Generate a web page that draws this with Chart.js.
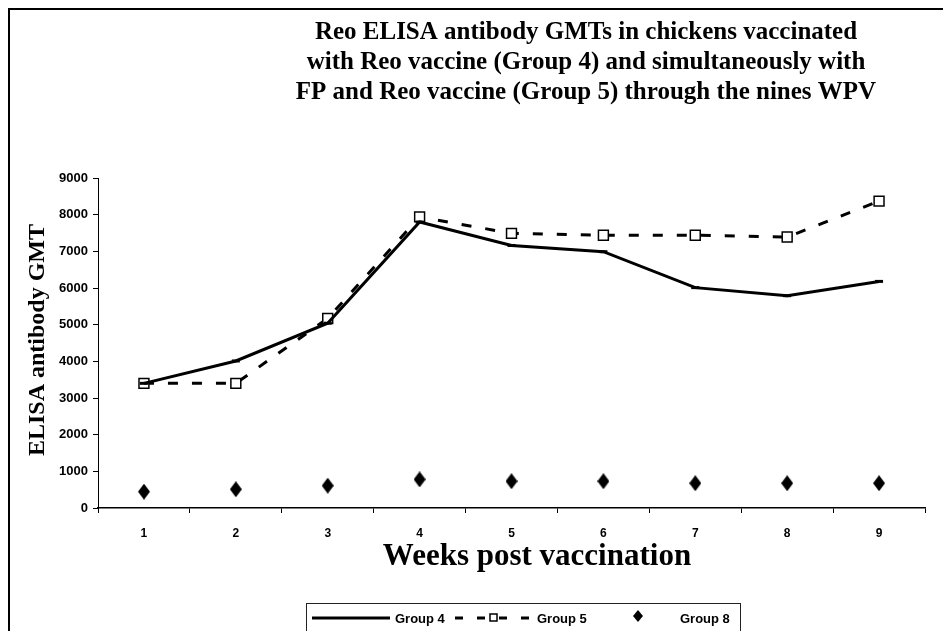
<!DOCTYPE html>
<html>
<head>
<meta charset="utf-8">
<script src="https://cdn.jsdelivr.net/npm/chart.js@4"></script>
<style>
  body { margin: 0; background: #fff; }
  #reo-chart { display: block; }
</style>
</head>
<body>
<canvas id="reo-chart" width="943" height="631"></canvas>
<script>
const weeks = ['1', '2', '3', '4', '5', '6', '7', '8', '9'];
const group4 = [3400, 4010, 5040, 7800, 7160, 6990, 6010, 5790, 6180];
const group5 = [3400, 3400, 5170, 7940, 7490, 7440, 7440, 7390, 8370];
const group8 = [445, 510, 610, 780, 730, 730, 675, 675, 675];

const titleLines = [
    'Reo ELISA antibody GMTs in chickens vaccinated',
    'with Reo vaccine (Group 4) and simultaneously with',
    'FP and Reo vaccine (Group 5) through the nines WPV'
];

// tall narrow diamond used for Group 8
function makeDiamond(w, h) {
    const c = document.createElement('canvas');
    c.width = w; c.height = h;
    const g = c.getContext('2d');
    g.fillStyle = '#000';
    g.beginPath();
    g.moveTo(w / 2, 0);
    g.lineTo(w, h / 2);
    g.lineTo(w / 2, h);
    g.lineTo(0, h / 2);
    g.closePath();
    g.fill();
    return c;
}
const diamond = makeDiamond(12, 16);
const smallDiamond = makeDiamond(10, 12);

const decor = {
    id: 'decor',
    beforeDraw(chart) {
        const ctx = chart.ctx;
        ctx.save();
        ctx.fillStyle = '#fff';
        ctx.fillRect(0, 0, chart.width, chart.height);
        ctx.restore();
    },
    afterDraw(chart) {
        const ctx = chart.ctx;
        ctx.save();
        // outer frame (cut by the right and bottom edges)
        ctx.strokeStyle = '#000';
        ctx.lineWidth = 2;
        ctx.beginPath();
        ctx.moveTo(9, chart.height + 5);
        ctx.lineTo(9, 9);
        ctx.lineTo(chart.width + 5, 9);
        ctx.stroke();

        // title
        ctx.fillStyle = '#000';
        ctx.font = 'bold 25px "Liberation Serif"';
        ctx.textAlign = 'center';
        ctx.textBaseline = 'middle';
        titleLines.forEach((t, i) => ctx.fillText(t, 586, 33 + i * 30));

        // axis titles
        ctx.font = 'bold 31px "Liberation Serif"';
        ctx.fillText('Weeks post vaccination', 537, 557);
        ctx.save();
        ctx.translate(38, 340);
        ctx.rotate(-Math.PI / 2);
        ctx.font = 'bold 24px "Liberation Serif"';
        ctx.fillText('ELISA antibody GMT', 0, 0);
        ctx.restore();

        // legend
        ctx.lineWidth = 1;
        ctx.strokeStyle = '#222';
        ctx.strokeRect(306.5, 603.5, 434, 40);
        const ly = 618;
        ctx.lineWidth = 3;
        ctx.strokeStyle = '#000';
        ctx.beginPath();
        ctx.moveTo(312, ly); ctx.lineTo(390, ly);
        ctx.stroke();
        ctx.setLineDash([8, 14]);
        ctx.beginPath();
        ctx.moveTo(455, ly); ctx.lineTo(533, ly);
        ctx.stroke();
        ctx.setLineDash([]);
        ctx.lineWidth = 1.5;
        ctx.fillStyle = '#fff';
        ctx.fillRect(490, ly - 4, 7, 7);
        ctx.strokeRect(490, ly - 4, 7, 7);
        ctx.drawImage(smallDiamond, 633, ly - 8);
        ctx.fillStyle = '#000';
        ctx.font = 'bold 13px "Liberation Sans"';
        ctx.textAlign = 'left';
        ctx.fillText('Group 4', 395, ly + 1);
        ctx.fillText('Group 5', 537, ly + 1);
        ctx.fillText('Group 8', 680, ly + 1);
        ctx.restore();
    }
};

new Chart(document.getElementById('reo-chart').getContext('2d'), {
    type: 'line',
    data: {
        labels: weeks,
        datasets: [
            {
                label: 'Group 4',
                data: group4,
                borderColor: '#000',
                borderWidth: 3,
                pointStyle: 'line',
                pointRadius: 4,
                pointBorderWidth: 3,
                pointBorderColor: '#000',
                tension: 0,
                fill: false
            },
            {
                label: 'Group 5',
                data: group5,
                borderColor: '#000',
                borderWidth: 3,
                borderDash: [10, 14],
                pointStyle: 'rect',
                pointRadius: 7,
                pointBorderWidth: 1.5,
                pointBackgroundColor: '#fff',
                pointBorderColor: '#000',
                tension: 0,
                fill: false
            },
            {
                label: 'Group 8',
                data: group8,
                showLine: false,
                pointStyle: diamond,
                pointRadius: 7
            }
        ]
    },
    options: {
        responsive: false,
        animation: false,
        layout: { padding: { top: 178, right: 18, bottom: 0, left: 0 } },
        plugins: {
            legend: { display: false },
            title: { display: false },
            tooltip: { enabled: false }
        },
        scales: {
            x: {
                offset: true,
                grid: { offset: true, drawOnChartArea: false, tickLength: 5, color: '#000' },
                border: { color: '#000', width: 1.5 },
                ticks: { color: '#000', padding: 13, font: { family: 'Liberation Sans', size: 12, weight: 'bold' } },
                afterFit(s) { s.height = 123; }
            },
            y: {
                min: 0,
                max: 9000,
                grid: { drawOnChartArea: false, tickLength: 5, color: '#000' },
                border: { color: '#000', width: 1 },
                ticks: {
                    stepSize: 1000,
                    color: '#000',
                    padding: 5,
                    font: { family: 'Liberation Sans', size: 13, weight: 'bold' },
                    callback: v => String(v)
                },
                afterFit(s) { s.width = 98; }
            }
        }
    },
    plugins: [decor]
});
</script>
</body>
</html>
